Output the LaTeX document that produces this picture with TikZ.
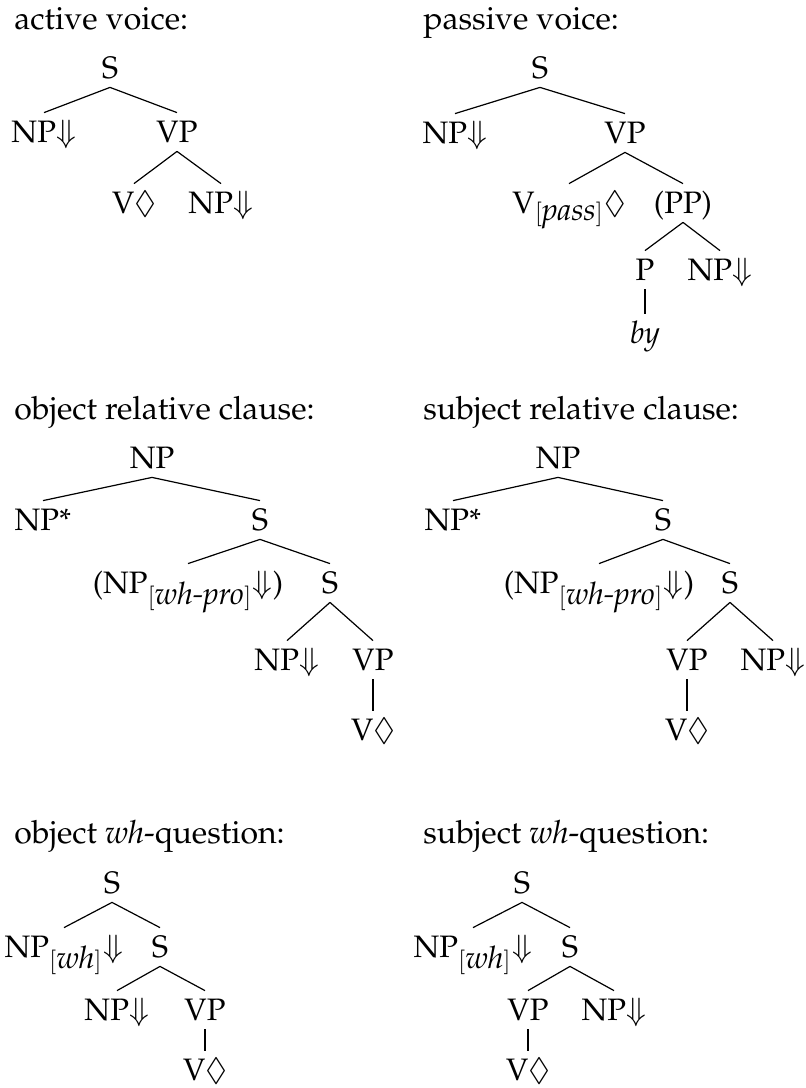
\documentclass[tikz,border=0pt]{standalone}
\usepackage[T1]{fontenc}
\usepackage{mathpazo}
\usepackage{amssymb}
\usepackage{tikz}
\usetikzlibrary{positioning}

\newcommand{\subst}{$\Downarrow$}
\newcommand{\anch}{$\lozenge$}

\tikzset{
  cat/.style={anchor=base, inner xsep=0pt, inner ysep=4.5pt, text height=10pt, text depth=0pt, font=\fontsize{15.5}{18}\selectfont},
  heading/.style={anchor=base west, inner sep=0pt, font=\fontsize{16}{19}\selectfont},
  branch/.style={line width=0.6pt}
}

\begin{document}
\begin{tikzpicture}[x=0.5pt, y=-0.5pt]
  \useasboundingbox (0,0) rectangle (805,1088);

  % active voice
  \node[heading] (ta) at (14,29) {active voice:};
  \node[cat] (aS) at (110,78) {S};
  \node[cat] (aNP) at (44,142) {NP\subst};
  \node[cat] (aVP) at (177,142) {VP};
  \node[cat] (aV) at (134,213) {V\anch};
  \node[cat] (aNPo) at (221,213) {NP\subst};
  \draw[branch] (aS.south) -- (aNP.north);
  \draw[branch] (aS.south) -- (aVP.north);
  \draw[branch] (aVP.south) -- (aV.north);
  \draw[branch] (aVP.south) -- (aNPo.north);

  % passive voice
  \node[heading] (tp) at (423,29) {passive voice:};
  \node[cat] (pS) at (540,78) {S};
  \node[cat] (pNP) at (455,143) {NP\subst};
  \node[cat] (pVP) at (625,143) {VP};
  \node[cat] (pV) at (569,213) {V$_{[\textit{pass}]}{\lozenge}$};
  \node[cat] (pPP) at (683,213) {(PP)};
  \node[cat] (pP) at (645,280) {P};
  \node[cat] (pNPb) at (720,280) {NP\subst};
  \node[cat] (pby) at (645,343) {\textit{by}};
  \draw[branch] (pS.south) -- (pNP.north);
  \draw[branch] (pS.south) -- (pVP.north);
  \draw[branch] (pVP.south) -- (pV.north);
  \draw[branch] (pVP.south) -- (pPP.north);
  \draw[branch] (pPP.south) -- (pP.north);
  \draw[branch] (pPP.south) -- (pNPb.north);
  \draw[branch] (pP.south) -- (pby.north);

  % object relative clause
  \node[heading] (to) at (14,419) {object relative clause:};
  \node[cat] (oNP) at (152,468) {NP};
  \node[cat] (oNPf) at (43,530) {NP*};
  \node[cat] (oS) at (260,530) {S};
  \node[cat] (oNPwh) at (188,593) {(NP$_{[\textit{wh-pro}]}{\Downarrow}$)};
  \node[cat] (oS2) at (330,593) {S};
  \node[cat] (oNPs) at (287,670) {NP\subst};
  \node[cat] (oVP) at (373,670) {VP};
  \node[cat] (oV) at (373,740) {V\anch};
  \draw[branch] (oNP.south) -- (oNPf.north);
  \draw[branch] (oNP.south) -- (oS.north);
  \draw[branch] (oS.south) -- (oNPwh.north);
  \draw[branch] (oS.south) -- (oS2.north);
  \draw[branch] (oS2.south) -- (oNPs.north);
  \draw[branch] (oS2.south) -- (oVP.north);
  \draw[branch] (oVP.south) -- (oV.north);

  % subject relative clause
  \node[heading] (ts) at (423,419) {subject relative clause:};
  \node[cat] (sNP) at (558,468) {NP};
  \node[cat] (sNPf) at (453,530) {NP*};
  \node[cat] (sS) at (663,530) {S};
  \node[cat] (sNPwh) at (599,593) {(NP$_{[\textit{wh-pro}]}{\Downarrow}$)};
  \node[cat] (sS2) at (730,593) {S};
  \node[cat] (sVP) at (687,670) {VP};
  \node[cat] (sNPo) at (773,670) {NP\subst};
  \node[cat] (sV) at (687,740) {V\anch};
  \draw[branch] (sNP.south) -- (sNPf.north);
  \draw[branch] (sNP.south) -- (sS.north);
  \draw[branch] (sS.south) -- (sNPwh.north);
  \draw[branch] (sS.south) -- (sS2.north);
  \draw[branch] (sS2.south) -- (sVP.north);
  \draw[branch] (sS2.south) -- (sNPo.north);
  \draw[branch] (sVP.south) -- (sV.north);

  % object wh-question
  \node[heading] (tw) at (14,843) {object \textit{wh}-question:};
  \node[cat] (wS) at (112,893) {S};
  \node[cat] (wNPwh) at (64,957) {NP$_{[\textit{wh}]}{\Downarrow}$};
  \node[cat] (wS2) at (160,957) {S};
  \node[cat] (wNPs) at (117,1020) {NP\subst};
  \node[cat] (wVP) at (205,1020) {VP};
  \node[cat] (wV) at (205,1080) {V\anch};
  \draw[branch] (wS.south) -- (wNPwh.north);
  \draw[branch] (wS.south) -- (wS2.north);
  \draw[branch] (wS2.south) -- (wNPs.north);
  \draw[branch] (wS2.south) -- (wVP.north);
  \draw[branch] (wVP.south) -- (wV.north);

  % subject wh-question
  \node[heading] (tx) at (423,843) {subject \textit{wh}-question:};
  \node[cat] (xS) at (522,893) {S};
  \node[cat] (xNPwh) at (473,957) {NP$_{[\textit{wh}]}{\Downarrow}$};
  \node[cat] (xS2) at (570,957) {S};
  \node[cat] (xVP) at (528,1020) {VP};
  \node[cat] (xNPo) at (614,1020) {NP\subst};
  \node[cat] (xV) at (528,1080) {V\anch};
  \draw[branch] (xS.south) -- (xNPwh.north);
  \draw[branch] (xS.south) -- (xS2.north);
  \draw[branch] (xS2.south) -- (xVP.north);
  \draw[branch] (xS2.south) -- (xNPo.north);
  \draw[branch] (xVP.south) -- (xV.north);
\end{tikzpicture}
\end{document}
